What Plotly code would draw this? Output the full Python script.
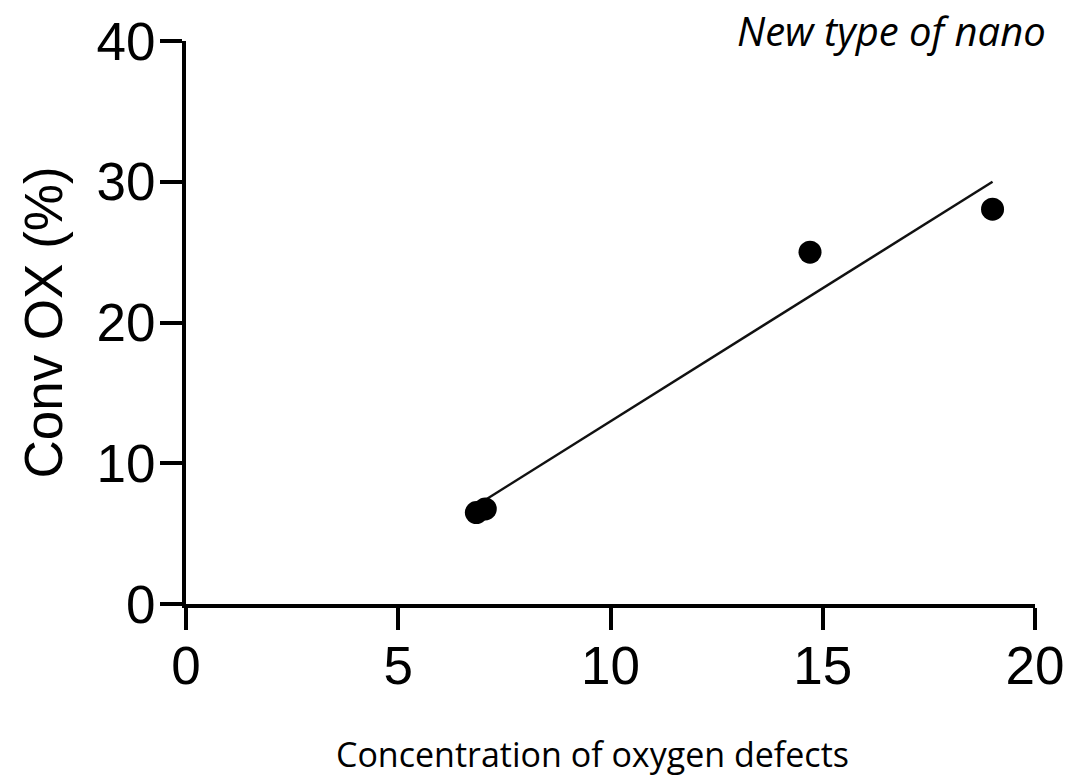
import plotly.graph_objects as go

# Data
defects = [6.84, 7.05, 14.7, 19.0]
conv_ox = [6.5, 6.75, 25.0, 28.05]
fit_x = [6.84, 19.0]
fit_y = [7.0, 30.0]

x_ticks = [0, 5, 10, 15, 20]
y_ticks = [0, 10, 20, 30, 40]

fig = go.Figure()
fig.add_trace(go.Scatter(x=fit_x, y=fit_y, mode="lines",
                         line=dict(color="#111111", width=2.5),
                         hoverinfo="skip", showlegend=False))
fig.add_trace(go.Scatter(x=defects, y=conv_ox, mode="markers",
                         marker=dict(color="black", size=23),
                         showlegend=False))

axis_font = dict(family="Liberation Sans, Arial", size=53, color="black")
fig.update_layout(
    width=1076, height=778,
    margin=dict(l=186, r=39, t=40, b=174),
    paper_bgcolor="white", plot_bgcolor="white",
    xaxis=dict(range=[0, 20], tickvals=x_ticks, ticks="outside", ticklen=22,
               tickwidth=4, tickcolor="black", showline=True, linewidth=4,
               linecolor="black", showgrid=False, zeroline=False,
               tickfont=axis_font, ticklabelstandoff=-10),
    yaxis=dict(range=[0, 40], tickvals=y_ticks, ticks="outside", ticklen=22,
               tickwidth=4, tickcolor="black", showline=True, linewidth=4,
               linecolor="black", showgrid=False, zeroline=False,
               tickfont=axis_font, ticklabelstandoff=-6,
               title=dict(text="Conv OX (%)", font=axis_font, standoff=18)),
    annotations=[
        dict(text="Concentration of oxygen defects", xref="paper", yref="paper",
             x=(593 - 186) / (1037 - 186), y=-(754 - 604) / 564,
             xanchor="center", yanchor="middle",
             showarrow=False,
             font=dict(family="Open Sans", size=34, color="black")),
        dict(text="<i>New type of nano</i>", xref="paper", yref="paper",
             x=(736 - 186) / (1037 - 186), y=1.0 + 40 / 564,
             xanchor="left", yanchor="top", showarrow=False,
             font=dict(family="Open Sans", size=40, color="black")),
    ],
)

fig.write_html("out.html")
